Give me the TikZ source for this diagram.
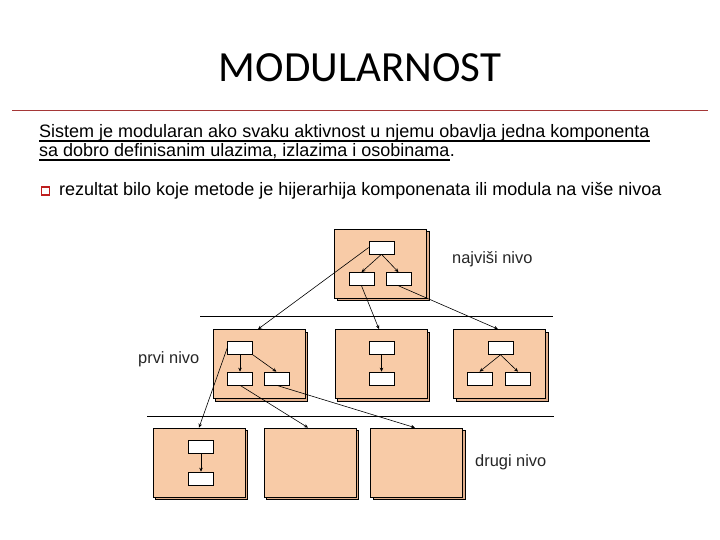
\documentclass[tikz,border=0pt]{standalone}
\usepackage{fontspec}
\setmainfont{Liberation Sans}
\newfontfamily\titlefont{Carlito}
\usetikzlibrary{arrows.meta,shadows}
\definecolor{peach}{RGB}{248,203,167}
\definecolor{peachdark}{RGB}{225,175,140}
\definecolor{rulered}{RGB}{165,55,55}
\definecolor{bulletred}{RGB}{190,30,30}
\begin{document}
\begin{tikzpicture}[x=1pt,y=-1pt,
  bigbox/.style={draw=black, fill=peach, line width=0.7pt, minimum width=92pt, minimum height=69pt, inner sep=0pt,
    copy shadow={shadow xshift=2.5pt, shadow yshift=-2.5pt, fill=peachdark, draw=black, line width=0.7pt}},
  small/.style={draw=black, fill=white, line width=0.6pt, minimum width=25pt, minimum height=13pt, inner sep=0pt},
  arr/.style={-{Stealth[length=4pt,width=3.5pt]}, line width=0.6pt},
  lvl/.style={font=\fontsize{16.4}{18}\selectfont, inner sep=0pt, anchor=base west, text=black!85},
  body/.style={font=\fontsize{18}{20}\selectfont, inner sep=0pt, anchor=base west}
]
\useasboundingbox[fill=white] (0,0) rectangle (720,540);

% title
\node[font=\titlefont\fontsize{43}{48}\selectfont, inner sep=0pt, anchor=base] (title) at (360,82) {MODULARNOST};
\coordinate (rl) at (12,110);
\coordinate (rr) at (708,110);
\draw[rulered, line width=0.8pt] (rl) -- (rr);

% body text
\node[body] (l1) at (39,138) {Sistem je modularan ako svaku aktivnost u njemu obavlja jedna komponenta};
\draw[line width=1.8pt] ([yshift=-2.8pt]l1.base west) -- ([yshift=-2.8pt]l1.base east);
\node[body] (l2) at (39,157) {sa dobro definisanim ulazima, izlazima i osobinama};
\draw[line width=1.8pt] ([yshift=-2.8pt]l2.base west) -- ([yshift=-2.8pt]l2.base east);
\node[body] (l2p) at (l2.base east) {.};
\node[draw=bulletred, line width=1.2pt, minimum size=8pt, inner sep=0pt] (bul) at (45.5,191) {};
\node[body] (l3) at (59,196) {rezultat bilo koje metode je hijerarhija komponenata ili modula na više nivoa};

% separator lines
\coordinate (s1l) at (200,316);
\coordinate (s1r) at (553,316);
\coordinate (s2l) at (147,416);
\coordinate (s2r) at (554,416);
\draw[line width=0.8pt] (s1l) -- (s1r);
\draw[line width=0.8pt] (s2l) -- (s2r);

% top level
\node[bigbox] (T) at (380.5,263.5) {};
\node[small] (t0) at (381.5,247.5) {};
\node[small] (t1) at (361.5,279) {};
\node[small] (t2) at (398.5,279) {};
\draw[arr] (t0.south) -- (t1.north);
\draw[arr] (t0.south) -- (t2.north);
\node[lvl] (n1) at (452,263) {najviši nivo};

% first level
\node[bigbox] (A) at (259,364) {};
\node[small] (a0) at (240,348) {};
\node[small] (a1) at (240,378.5) {};
\node[small] (a2) at (276.5,378.5) {};
\draw[arr] (a0.south) -- (a1.north);
\draw[arr] (a0.south east) -- (a2.north);

\node[bigbox] (B) at (381,364) {};
\node[small] (b0) at (381.5,348) {};
\node[small] (b1) at (381.5,378.5) {};
\draw[arr] (b0.south) -- (b1.north);

\node[bigbox] (C) at (499.5,364) {};
\node[small] (c0) at (500.5,348) {};
\node[small] (c1) at (479.5,378.5) {};
\node[small] (c2) at (518,378.5) {};
\draw[arr] (c0.south) -- (c1.north);
\draw[arr] (c0.south) -- (c2.north);
\node[lvl] (n2) at (138,363) {prvi nivo};

% second level
\node[bigbox] (D) at (199,462.5) {};
\node[small] (d0) at (201,447) {};
\node[small] (d1) at (201,478.5) {};
\draw[arr] (d0.south) -- (d1.north);
\node[bigbox] (E) at (310,462.5) {};
\node[bigbox] (F) at (416.5,462.5) {};
\node[lvl] (n3) at (475,466) {drugi nivo};

% cross-level connectors
\draw[arr] (t0.west) -- ([xshift=-1pt]A.north);
\draw[arr] (t1.south) -- ([xshift=-2pt]B.north);
\draw[arr] (t2.south) -- ([xshift=-1.5pt]C.north);
\draw[arr] (a0.west) -- (D.north);
\draw[arr] (a1.south) -- ([xshift=-2pt]E.north);
\draw[arr] (a2.south) -- ([xshift=-1.5pt]F.north);
\end{tikzpicture}
\end{document}
